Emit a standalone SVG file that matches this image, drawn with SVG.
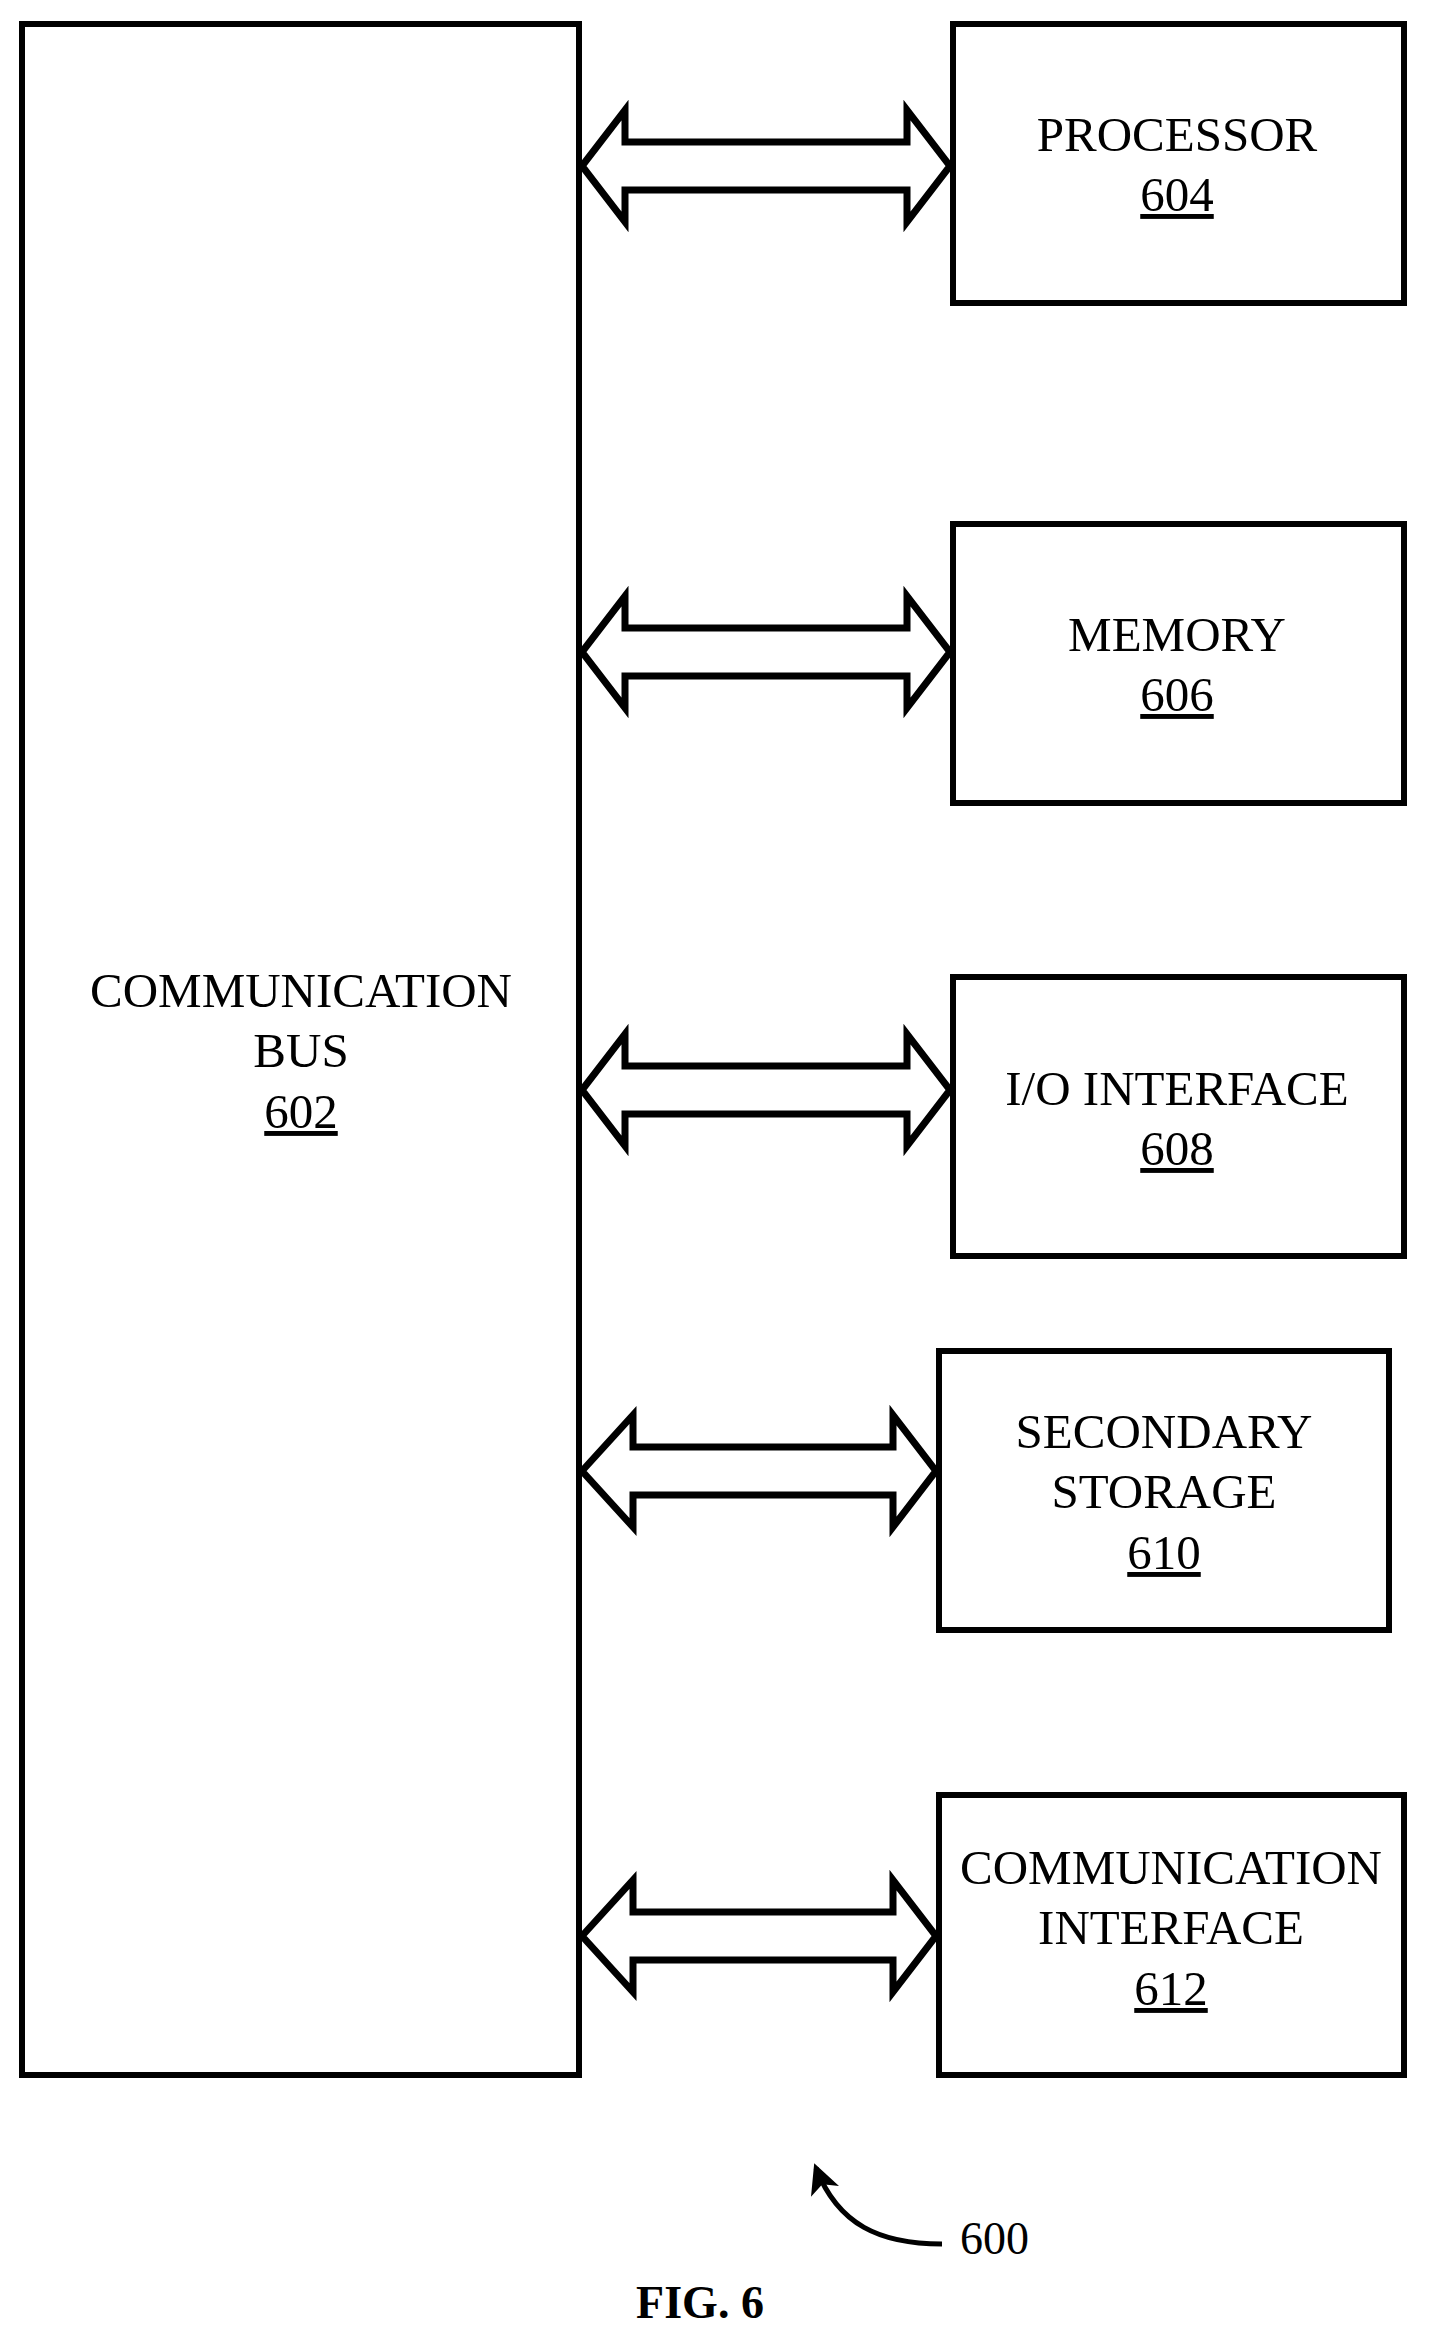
<svg xmlns="http://www.w3.org/2000/svg" width="1429" height="2339" viewBox="0 0 1429 2339">
<style>
.b{fill:#fff;stroke:#000;stroke-width:6}
.t{font-family:"Liberation Serif",serif;font-size:49px;text-anchor:middle;fill:#000}
.u{text-decoration:underline}
.a{fill:#fff;stroke:#000;stroke-width:7;stroke-linejoin:miter}
</style>
<defs>
<marker id="ah" markerWidth="30" markerHeight="30" refX="20" refY="12" orient="auto" markerUnits="userSpaceOnUse" viewBox="0 0 24 24"><path d="M0,0 L24,12 L0,24 L6,12 Z" fill="#000"/></marker>
</defs>
<rect width="1429" height="2339" fill="#fff"/>
<g id="bus"><rect class="b" x="22" y="24" width="557" height="2051"/>
<text class="t" x="301" y="1007">COMMUNICATION</text><text class="t" x="301" y="1067">BUS</text><text class="t u" x="301" y="1128">602</text></g>
<g id="processor"><rect class="b" x="953" y="24" width="451" height="279"/>
<text class="t" x="1177" y="151">PROCESSOR</text><text class="t u" x="1177" y="211">604</text></g>
<g id="memory"><rect class="b" x="953" y="524" width="451" height="279"/>
<text class="t" x="1177" y="651">MEMORY</text><text class="t u" x="1177" y="711">606</text></g>
<g id="io"><rect class="b" x="953" y="977" width="451" height="279"/>
<text class="t" x="1177" y="1105">I/O INTERFACE</text><text class="t u" x="1177" y="1165">608</text></g>
<g id="storage"><rect class="b" x="939" y="1351" width="450" height="279"/>
<text class="t" x="1164" y="1448">SECONDARY</text><text class="t" x="1164" y="1508">STORAGE</text><text class="t u" x="1164" y="1569">610</text></g>
<g id="comm"><rect class="b" x="939" y="1795" width="465" height="280"/>
<text class="t" x="1171" y="1884">COMMUNICATION</text><text class="t" x="1171" y="1944">INTERFACE</text><text class="t u" x="1171" y="2005">612</text></g>
<g id="connectors">
<path class="a" d="M582,166 L625,110 L625,142 L907,142 L907,110 L950,166 L907,222 L907,190 L625,190 L625,222 Z"/>
<path class="a" d="M582,652 L625,596 L625,628 L907,628 L907,596 L950,652 L907,708 L907,676 L625,676 L625,708 Z"/>
<path class="a" d="M582,1090 L625,1034 L625,1066 L907,1066 L907,1034 L950,1090 L907,1146 L907,1114 L625,1114 L625,1146 Z"/>
<path class="a" d="M582,1471 L633,1415 L633,1447 L893,1447 L893,1415 L936,1471 L893,1527 L893,1495 L633,1495 L633,1527 Z"/>
<path class="a" d="M582,1936 L633,1880 L633,1912 L893,1912 L893,1880 L936,1936 L893,1992 L893,1960 L633,1960 L633,1992 Z"/>
<path d="M942,2244 C880,2244 838,2225 816,2168" fill="none" stroke="#000" stroke-width="5" marker-end="url(#ah)"/>
</g>
<text x="960" y="2254" style="font-family:'Liberation Serif',serif;font-size:46px">600</text>
<text x="700" y="2318" style="font-family:'Liberation Serif',serif;font-size:46px;font-weight:bold;text-anchor:middle">FIG. 6</text>
</svg>
